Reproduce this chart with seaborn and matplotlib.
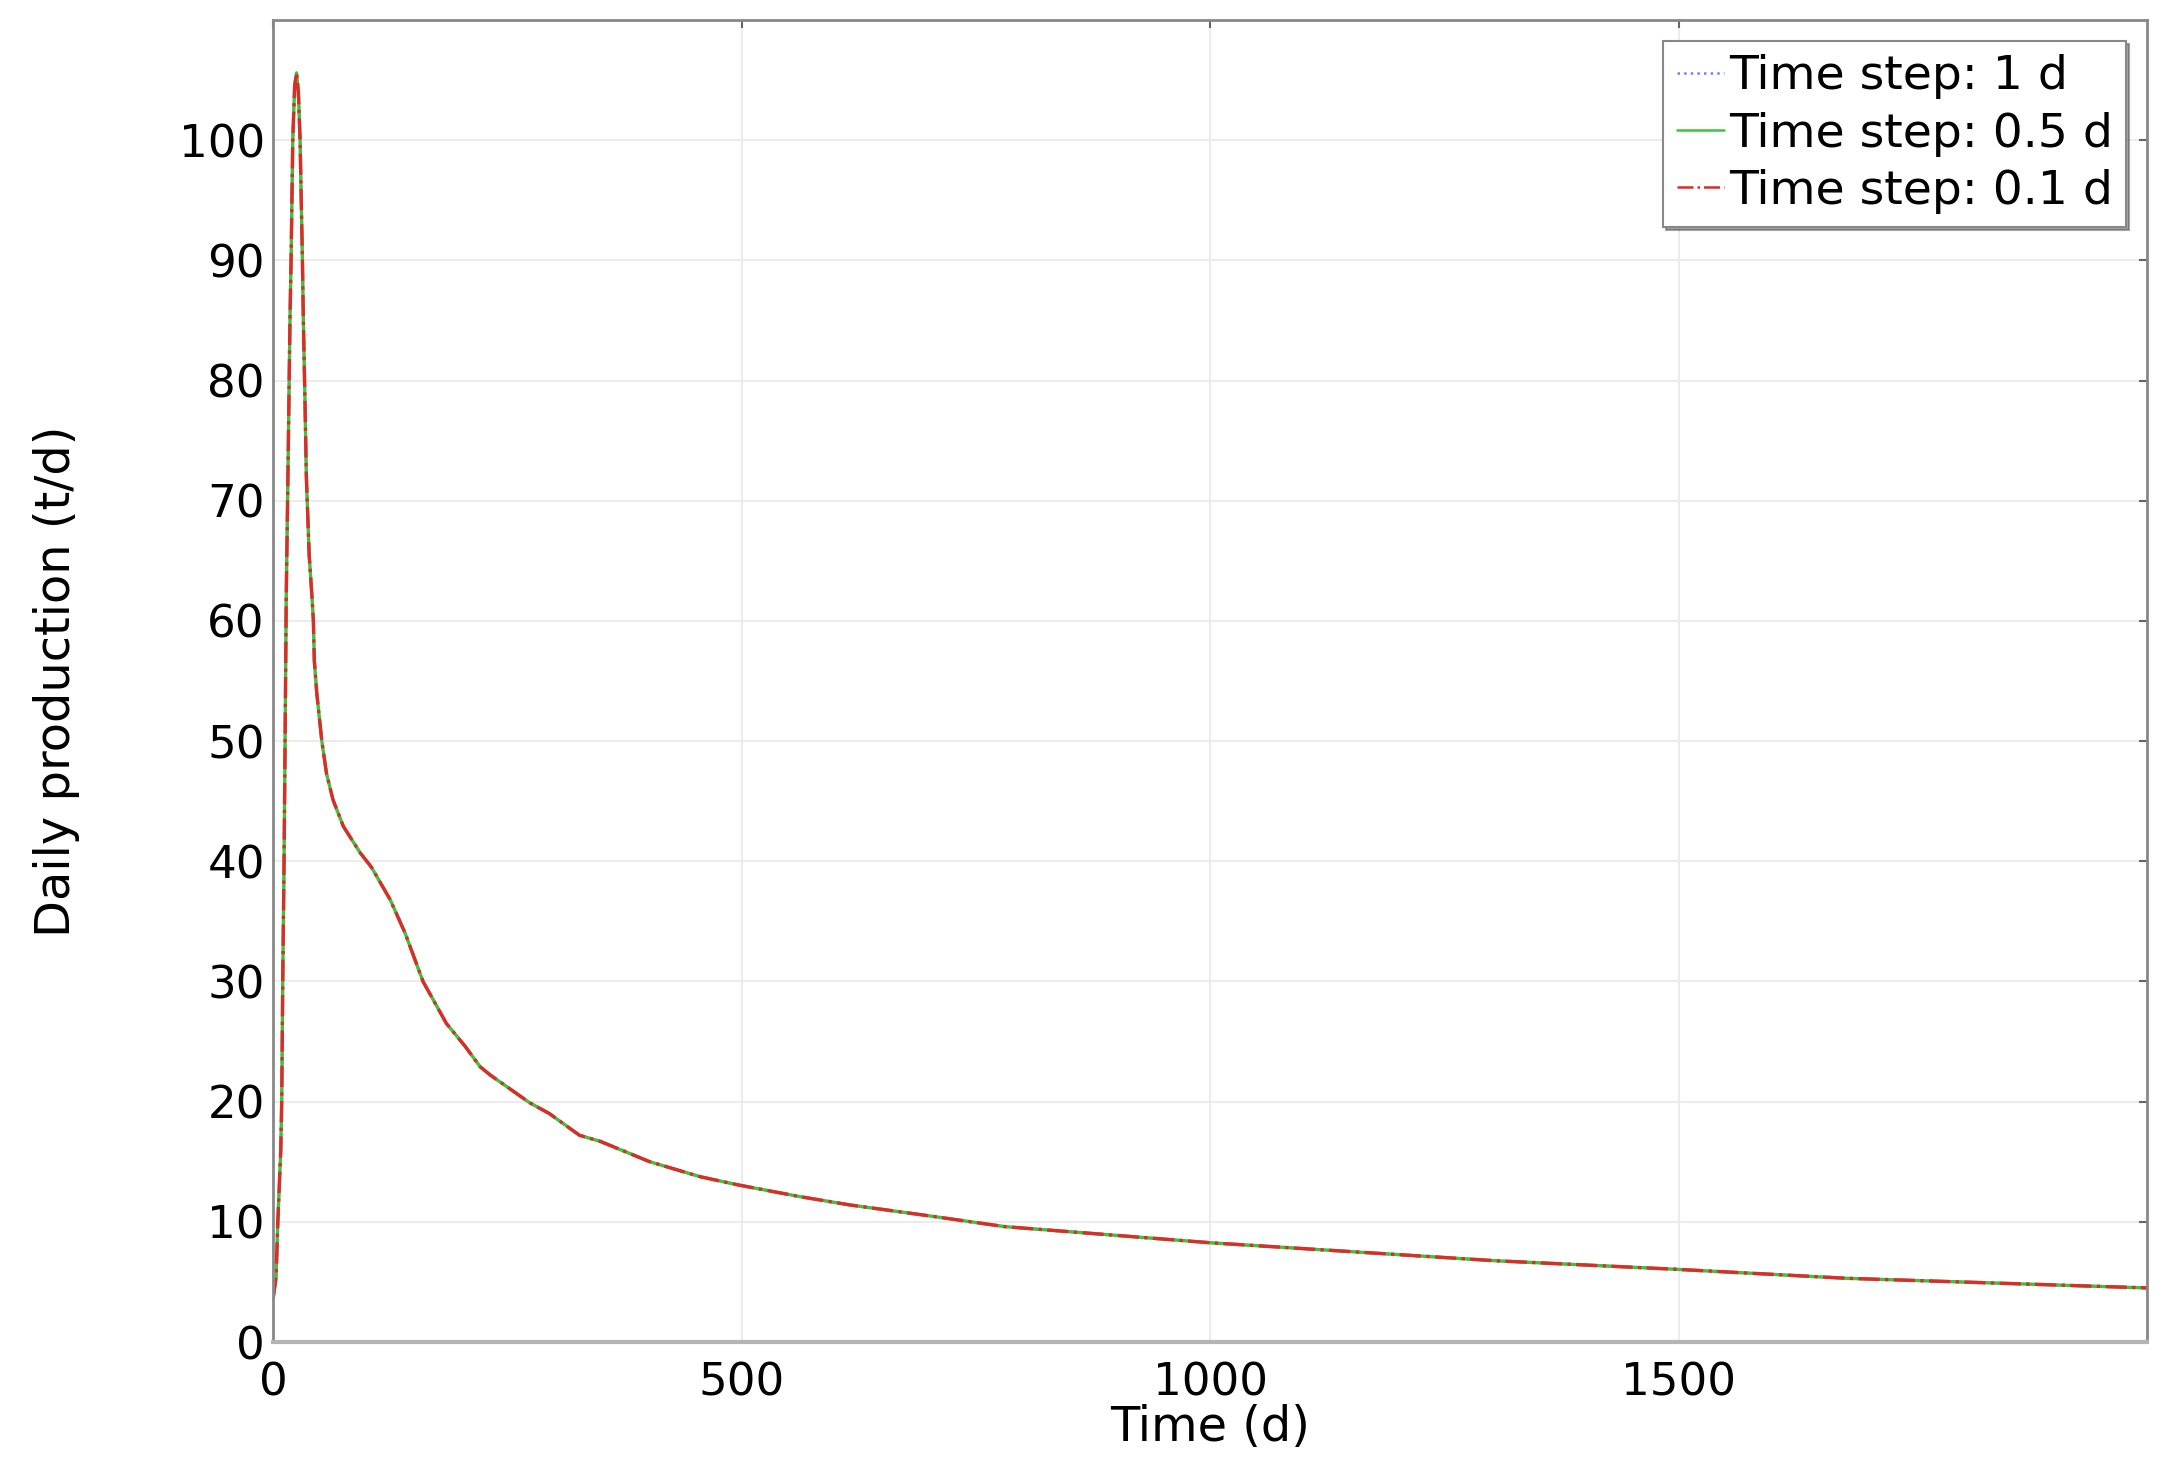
import matplotlib
matplotlib.use("Agg")
import matplotlib.pyplot as plt
import numpy as np
import pandas as pd
import seaborn as sns

# Values (all three time steps coincide)
time_d = [0, 3.2, 5, 8.2, 9.2, 10.3, 11.7, 12.8, 14, 16, 18, 19.2, 21, 23, 25,
          27, 28.8, 31.3, 32.3, 34, 35.5, 38.5, 41.5, 43, 44, 46.6, 52, 57, 64, 75,
          93, 105, 125, 141, 160, 185, 205, 221, 232, 274, 295, 327, 349, 402,
          456, 497, 562, 616, 700, 781, 1000, 1305, 1500, 1680, 2000]
production = [3.6, 5.4, 9.9, 16.0, 20.0, 30.0, 40.0, 50.0, 61.8, 73.0, 85.0, 90.0,
              100.0, 104.5, 105.6, 104.0, 100.0, 90.0, 85.0, 78.4, 72.0, 65.5,
              62.0, 60.0, 56.7, 54.0, 50.0, 47.3, 45.1, 42.9, 40.7, 39.5, 36.8,
              34.0, 30.0, 26.5, 24.6, 22.9, 22.2, 19.9, 19.0, 17.2, 16.7, 15.0,
              13.75, 13.06, 12.1, 11.4, 10.5, 9.6, 8.26, 6.76, 6.04, 5.3, 4.5]

series_labels = ["Time step: 1 d", "Time step: 0.5 d", "Time step: 0.1 d"]
series_colors = ["#7a7aff", "#3cc43c", "#dd2a2a"]
series_styles = [":", "-", "-."]
series_widths = [2.0, 2.4, 2.4]

sns.set_style("white")
plt.rcParams["font.family"] = ["DejaVu Sans"]
plt.rcParams["text.color"] = "black"
plt.rcParams["axes.labelcolor"] = "black"
plt.rcParams["xtick.labelcolor"] = "black"
plt.rcParams["ytick.labelcolor"] = "black"

fig = plt.figure(figsize=(21.83, 14.67), dpi=100)
ax = fig.add_axes([0.1251, 0.0852, 0.8584, 0.9012])

df = pd.DataFrame({"Time (d)": time_d, "Daily production (t/d)": production})
for lab, col, ls, lw in zip(series_labels, series_colors, series_styles, series_widths):
    sns.lineplot(data=df, x="Time (d)", y="Daily production (t/d)", ax=ax,
                 color=col, linestyle=ls, linewidth=lw, label=lab)

ax.set_xlim(0, 2000)
ax.set_ylim(0, 110)
ax.set_xticks([0, 500, 1000, 1500])
ax.set_yticks(np.arange(0, 101, 10))
ax.grid(True, color="#ececec", linewidth=1.5)
ax.set_axisbelow(True)

ax.tick_params(axis="both", direction="in", length=6, width=1.5, color="#666666",
               labelsize=32.5, top=True, right=True)
ax.tick_params(axis="x", pad=14)
ax.tick_params(axis="y", pad=6)

for side in ["left", "top", "right"]:
    ax.spines[side].set_color("#888888")
    ax.spines[side].set_linewidth(2)
ax.spines["bottom"].set_color("#b4b4b4")
ax.spines["bottom"].set_linewidth(3)

ax.set_xlabel("Time (d)", fontsize=34.5, labelpad=0)
ax.set_ylabel("Daily production (t/d)", fontsize=34.5)
ax.yaxis.set_label_coords(-0.103, 0.5)

leg = ax.legend(loc="upper right", fontsize=34, frameon=True, fancybox=False,
                shadow=True, borderpad=0.28, labelspacing=0.26, handlelength=1.0,
                handletextpad=0.1, borderaxespad=0.45)
leg.get_frame().set_edgecolor("#888888")
leg.get_frame().set_linewidth(1.5)
for line in leg.get_lines():
    line.set_linewidth(1.8)

fig.savefig("out.png", dpi=100)
